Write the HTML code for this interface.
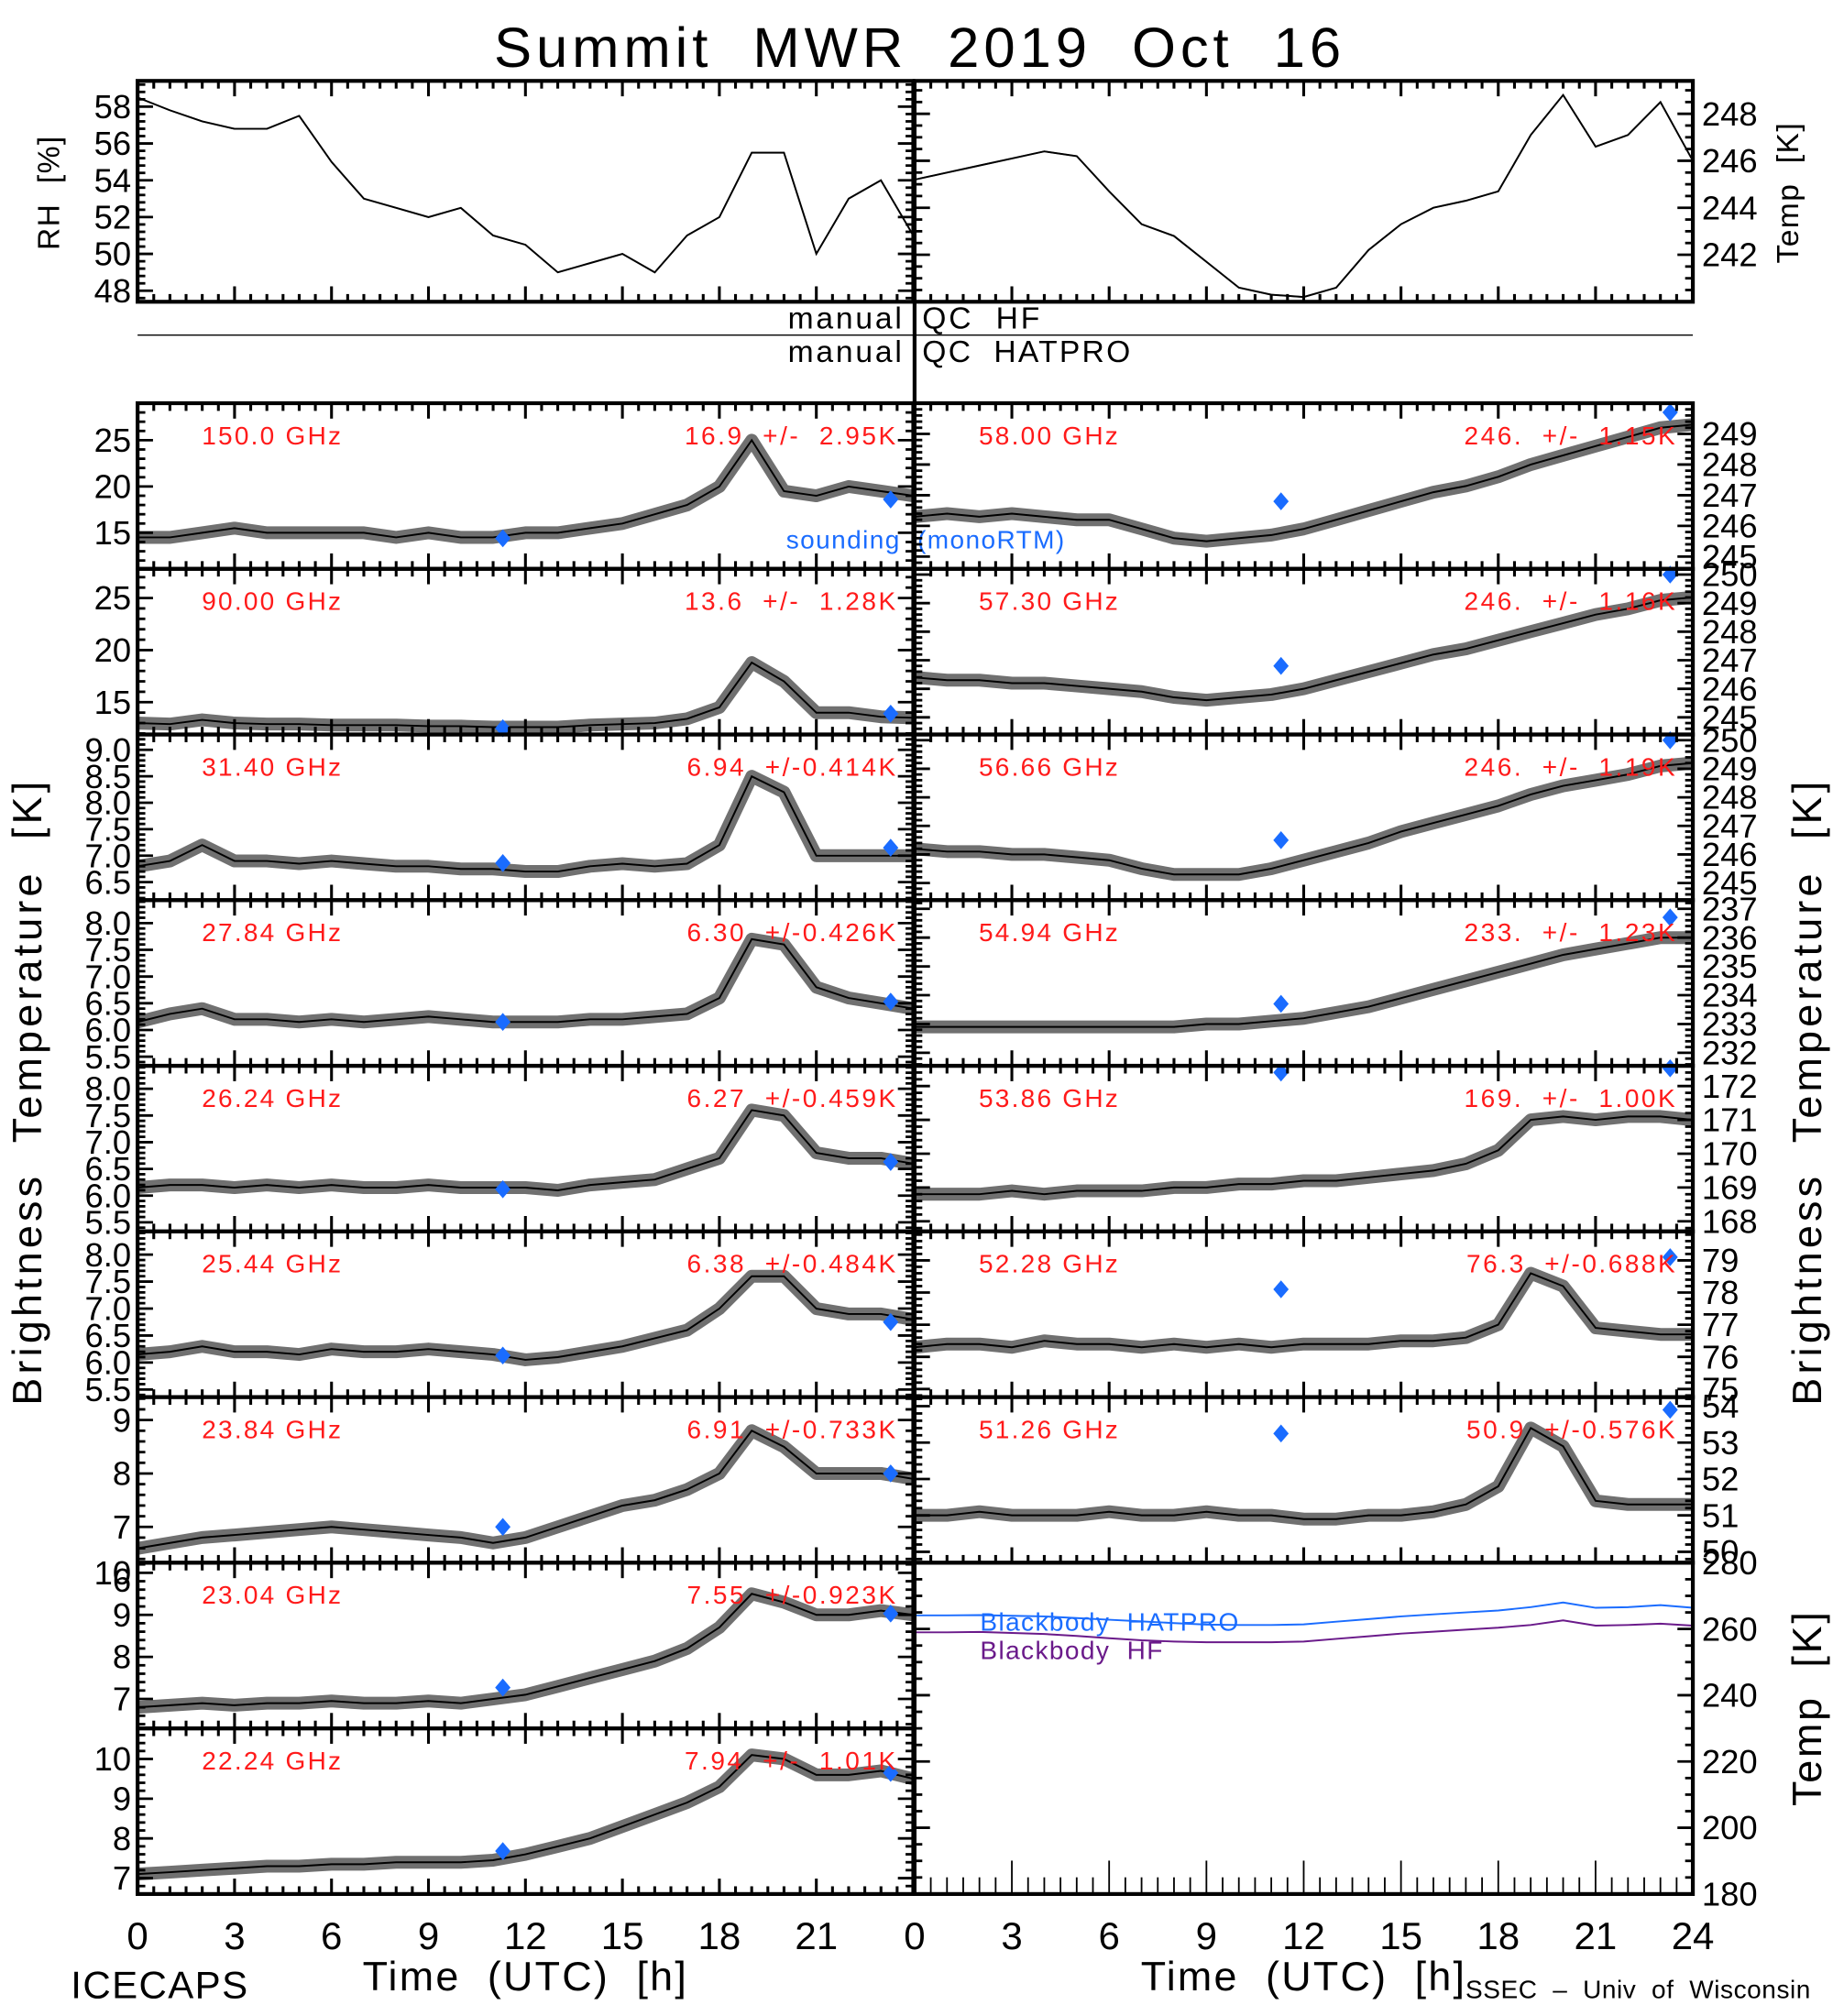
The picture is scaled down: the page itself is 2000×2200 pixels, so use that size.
<!DOCTYPE html>
<html><head><meta charset="utf-8"><style>
html,body{margin:0;padding:0;background:#fff;}
svg{display:block;}
text{font-family:"Liberation Sans",sans-serif;white-space:pre;}
</style></head><body>
<svg id="chart" xmlns="http://www.w3.org/2000/svg" width="2000" height="2200" viewBox="0 0 1427 1570">
<rect x="0" y="0" width="1427" height="1570" fill="#fff"/>
<text x="716" y="52" font-size="44" text-anchor="middle" letter-spacing="3.5">Summit  MWR  2019  Oct  16</text>
<text x="704" y="256" font-size="24" text-anchor="end" letter-spacing="2">manual</text>
<text x="718" y="256" font-size="24" letter-spacing="2">QC  HF</text>
<line x1="107" y1="261" x2="1318" y2="261" stroke="#000" stroke-width="1"/>
<text x="704" y="282" font-size="24" text-anchor="end" letter-spacing="2">manual</text>
<text x="718" y="282" font-size="24" letter-spacing="1.6">QC  HATPRO</text>
<line x1="712" y1="63" x2="712" y2="1476" stroke="#000" stroke-width="3"/>
<text transform="translate(32,850) rotate(-90)" font-size="32" text-anchor="middle" letter-spacing="3">Brightness  Temperature  [K]</text>
<text transform="translate(1418,850) rotate(-90)" font-size="32" text-anchor="middle" letter-spacing="3">Brightness  Temperature  [K]</text>
<text transform="translate(46,150) rotate(-90)" font-size="24" text-anchor="middle" letter-spacing="1">RH  [%]</text>
<text transform="translate(1400,150) rotate(-90)" font-size="24" text-anchor="middle" letter-spacing="1">Temp  [K]</text>
<text transform="translate(1418,1330) rotate(-90)" font-size="32" text-anchor="middle" letter-spacing="2">Temp  [K]</text>
<text x="409" y="1550" font-size="32" text-anchor="middle" letter-spacing="1.6">Time  (UTC)  [h]</text>
<text x="1015" y="1550" font-size="32" text-anchor="middle" letter-spacing="1.6">Time  (UTC)  [h]</text>
<text x="55" y="1556" font-size="30" letter-spacing="1">ICECAPS</text>
<text x="1141" y="1556" font-size="20" letter-spacing="0.4">SSEC  –  Univ  of  Wisconsin</text>
<text x="612" y="427" font-size="20" fill="#1a6cff" letter-spacing="1">sounding  (monoRTM)</text>
<g id="plots"></g>
</svg>
<script>
// ---- data (hourly values 0..24 UTC) ----
const hours = [0,1,2,3,4,5,6,7,8,9,10,11,12,13,14,15,16,17,18,19,20,21,22,23,24];
const rhValues   = [58.5,57.8,57.2,56.8,56.8,57.5,55,53,52.5,52,52.5,51,50.5,49,49.5,50,49,51,52,55.5,55.5,50,53,54,51];
const tempValues = [245.2,245.5,245.8,246.1,246.4,246.2,244.7,243.3,242.8,241.7,240.6,240.3,240.2,240.6,242.2,243.3,244,244.3,244.7,247.1,248.8,246.6,247.1,248.5,246];
const freqsLeft  = ["150.0 GHz","90.00 GHz","31.40 GHz","27.84 GHz","26.24 GHz","25.44 GHz","23.84 GHz","23.04 GHz","22.24 GHz"];
const statsLeft  = ["16.9 +/-  2.95K","13.6 +/-  1.28K","6.94 +/-0.414K","6.30 +/-0.426K","6.27 +/-0.459K","6.38 +/-0.484K","6.91 +/-0.733K","7.55 +/-0.923K","7.94 +/-  1.01K"];
const tb150 = [14.5,14.5,15,15.5,15,15,15,15,14.5,15,14.5,14.5,15,15,15.5,16,17,18,20,25,19.5,19,20,19.5,19];
const tb90  = [13,12.9,13.3,13,12.9,12.9,12.8,12.8,12.8,12.7,12.7,12.6,12.6,12.6,12.8,12.9,13,13.4,14.5,18.8,17,14,14,13.6,13.5];
const tb314 = [6.8,6.9,7.2,6.9,6.9,6.85,6.9,6.85,6.8,6.8,6.75,6.75,6.7,6.7,6.8,6.85,6.8,6.85,7.2,8.5,8.2,7.0,7.0,7.0,7.0];
const tb2784= [6.15,6.3,6.4,6.2,6.2,6.15,6.2,6.15,6.2,6.25,6.2,6.15,6.15,6.15,6.2,6.2,6.25,6.3,6.6,7.7,7.6,6.8,6.6,6.5,6.4];
const tb2624= [6.15,6.2,6.2,6.15,6.2,6.15,6.2,6.15,6.15,6.2,6.15,6.15,6.15,6.1,6.2,6.25,6.3,6.5,6.7,7.6,7.5,6.8,6.7,6.7,6.6];
const tb2544= [6.15,6.2,6.3,6.2,6.2,6.15,6.25,6.2,6.2,6.25,6.2,6.15,6.05,6.1,6.2,6.3,6.45,6.6,7.0,7.6,7.6,7.0,6.9,6.9,6.8];
const tb2384= [6.6,6.7,6.8,6.85,6.9,6.95,7.0,6.95,6.9,6.85,6.8,6.7,6.8,7.0,7.2,7.4,7.5,7.7,8.0,8.8,8.5,8.0,8.0,8.0,7.9];
const tb2304= [6.8,6.85,6.9,6.85,6.9,6.9,6.95,6.9,6.9,6.95,6.9,7.0,7.1,7.3,7.5,7.7,7.9,8.2,8.7,9.5,9.3,9.0,9.0,9.1,9.0];
const tb2224= [7.1,7.15,7.2,7.25,7.3,7.3,7.35,7.35,7.4,7.4,7.4,7.45,7.6,7.8,8.0,8.3,8.6,8.9,9.3,10.1,10.0,9.6,9.6,9.7,9.5];
const freqsRight = ["58.00 GHz","57.30 GHz","56.66 GHz","54.94 GHz","53.86 GHz","52.28 GHz","51.26 GHz"];
const statsRight = ["246. +/-  1.15K","246. +/-  1.16K","246. +/-  1.19K","233. +/-  1.23K","169. +/-  1.00K","76.3 +/-0.688K","50.9 +/-0.576K"];
const tb5800= [246.3,246.4,246.3,246.4,246.3,246.2,246.2,245.9,245.6,245.5,245.6,245.7,245.9,246.2,246.5,246.8,247.1,247.3,247.6,248.0,248.3,248.6,248.9,249.2,249.3];
const tb5730= [246.4,246.3,246.3,246.2,246.2,246.1,246.0,245.9,245.7,245.6,245.7,245.8,246.0,246.3,246.6,246.9,247.2,247.4,247.7,248.0,248.3,248.6,248.8,249.1,249.2];
const tb5666= [246.2,246.1,246.1,246.0,246.0,245.9,245.8,245.5,245.3,245.3,245.3,245.5,245.8,246.1,246.4,246.8,247.1,247.4,247.7,248.1,248.4,248.6,248.8,249.1,249.2];
const tb5494= [232.9,232.9,232.9,232.9,232.9,232.9,232.9,232.9,232.9,233.0,233.0,233.1,233.2,233.4,233.6,233.9,234.2,234.5,234.8,235.1,235.4,235.6,235.8,236.0,236.0];
const tb5386= [168.8,168.8,168.8,168.9,168.8,168.9,168.9,168.9,169.0,169.0,169.1,169.1,169.2,169.2,169.3,169.4,169.5,169.7,170.1,171.0,171.1,171.0,171.1,171.1,171.0];
const tb5228= [76.3,76.4,76.4,76.3,76.5,76.4,76.4,76.3,76.4,76.3,76.4,76.3,76.4,76.4,76.4,76.5,76.5,76.6,77.0,78.6,78.2,76.9,76.8,76.7,76.7];
const tb5126= [51.0,51.0,51.1,51.0,51.0,51.0,51.1,51.0,51.0,51.1,51.0,51.0,50.9,50.9,51.0,51.0,51.1,51.3,51.8,53.4,52.9,51.4,51.3,51.3,51.3];
const bbHatpro = [264.1,264.1,264.2,264.0,263.8,263.3,262.8,262.3,261.8,261.3,261.2,261.2,261.4,262.2,263.0,263.8,264.4,265.0,265.6,266.6,268.0,266.4,266.6,267.2,266.4];
const bbHF     = [259.0,259.0,259.1,258.8,258.5,257.9,257.2,256.6,256.2,256.0,256.0,256.0,256.2,257.0,257.8,258.6,259.2,259.8,260.4,261.2,262.6,261.0,261.2,261.6,261.0];
const sondeHours = [11.3, 23.3];
const sondeLeft  = [[14.4,18.6],[12.5,13.9],[6.86,7.15],[6.15,6.53],[6.12,6.63],[6.13,6.75],[7.0,8.0],[7.27,9.03],[7.68,9.65]];
const sondeRight = [[246.8,249.7],[246.8,250.0],[246.5,250.0],[233.7,236.7],[172.4,172.6],[78.1,79.1],[53.25,53.9]];
const ticksLeft = [[15,20,25],[15,20,25],[6.5,7.0,7.5,8.0,8.5,9.0],[5.5,6.0,6.5,7.0,7.5,8.0],[5.5,6.0,6.5,7.0,7.5,8.0],[5.5,6.0,6.5,7.0,7.5,8.0],[6,7,8,9],[7,8,9,10],[7,8,9,10]];
const tickFmtLeft = [0,0,1,1,1,1,0,0,0];
const ticksRight = [[245,246,247,248,249],[245,246,247,248,249,250],[245,246,247,248,249,250],[232,233,234,235,236,237],[168,169,170,171,172],[75,76,77,78,79],[50,51,52,53,54]];
const ticksBB = [180,200,220,240,260,280];
const ticksRH = [48,50,52,54,56,58];
const ticksT  = [242,244,246,248];
const xLabelsLeft = [0,3,6,9,12,15,18,21];
const xLabelsRight= [0,3,6,9,12,15,18,21,24];

const seriesLeft = [tb150,tb90,tb314,tb2784,tb2624,tb2544,tb2384,tb2304,tb2224];
const seriesRight= [tb5800,tb5730,tb5666,tb5494,tb5386,tb5228,tb5126];
const rangesLeft = [[11.1,29],[11.9,27.8],[6.16,9.29],[5.33,8.43],[5.33,8.43],[5.36,8.43],[6.33,9.43],[6.3,10.24],[6.6,10.77]];
const rangesRight= [[244.6,250.0],[244.4,250.2],[244.4,250.2],[231.55,237.3],[167.7,172.6],[74.75,79.9],[49.7,54.25]];

const NS='http://www.w3.org/2000/svg';
const root=document.getElementById('plots');
function mk(tag,attrs,parent){const e=document.createElementNS(NS,tag);for(const k in attrs)e.setAttribute(k,attrs[k]);(parent||root).appendChild(e);return e;}

function panel(name,x0,x1,y0,y1,ymin,ymax,ticks,fmt,labelSide,vals,opts){
  opts=opts||{};
  const g=mk('g',{});
  
  
  const sx=h=>x0+(x1-x0)*h/24;
  const sy=v=>y1-(y1-y0)*(v-ymin)/(ymax-ymin);
  const cp='cp-'+name;
  const cl=mk('clipPath',{id:cp},g);
  mk('rect',{x:x0,y:y0,width:x1-x0,height:y1-y0},cl);
  if(vals){
    const pts=hours.map((h,i)=>sx(h).toFixed(1)+','+sy(vals[i]).toFixed(1)).join(' ');
    const band=mk('polyline',{points:pts,fill:'none',stroke:'#111','stroke-width':opts.bw||10,'stroke-opacity':0.6,'stroke-linejoin':'round','clip-path':'url(#'+cp+')'},g);
    
    
    const ln=mk('polyline',{points:pts,fill:'none',stroke:'#000','stroke-width':1.4,'clip-path':'url(#'+cp+')'},g);
    
    
  }
  if(opts.extra){opts.extra.forEach(s=>{
    const pts=hours.map((h,i)=>sx(h).toFixed(1)+','+sy(s.v[i]).toFixed(1)).join(' ');
    const l=mk('polyline',{points:pts,fill:'none',stroke:s.c,'stroke-width':1.4,'clip-path':'url(#'+cp+')'},g);
    
    
  });}
  if(opts.sonde){opts.sonde.forEach((v,i)=>{
    const cx=sx(sondeHours[i]),cy=Math.max(y0+2,sy(v));
    const d=mk('polygon',{points:`${cx},${cy-7} ${cx+6},${cy} ${cx},${cy+7} ${cx-6},${cy}`,fill:'#1a6cff'},g);
    
    
  });}
  const big=opts.longTicks;
  for(let h=0;h<=24;h+=0.5){
    const x=sx(h);const major=(h%3===0);
    const L=major?12:6;
    if(big){mk('line',{x1:x,y1:y1,x2:x,y2:y1-(major?26:13),stroke:'#000','stroke-width':1.3},g);}
    else{
      mk('line',{x1:x,y1:y1,x2:x,y2:y1-L,stroke:'#000','stroke-width':2.2},g);
      mk('line',{x1:x,y1:y0,x2:x,y2:y0+L,stroke:'#000','stroke-width':2.2},g);
    }
  }
  const step=ticks[1]-ticks[0];const sub=step/ (opts.ysub||5);
  const start=Math.ceil((ymin)/sub)*sub;
  for(let v=start;v<=ymax+1e-9;v+=sub){
    const y=sy(v);const maj=ticks.some(t=>Math.abs(t-v)<sub*0.3);
    const L=maj?12:6;
    mk('line',{x1:x0,y1:y,x2:x0+L,y2:y,stroke:'#000','stroke-width':2},g);
    mk('line',{x1:x1,y1:y,x2:x1-L,y2:y,stroke:'#000','stroke-width':2},g);
  }
  ticks.forEach(t=>{
    let y=sy(t)+9;
    const tx=mk('text',{x:labelSide==='left'?x0-5:x1+7,y:y,'font-size':opts.fs||26,'text-anchor':labelSide==='left'?'end':'start'},g);
    tx.textContent=t.toFixed(fmt);
    
    
  });
  mk('rect',{x:x0,y:y0,width:x1-x0,height:y1-y0,fill:'none',stroke:'#000','stroke-width':3},g);
  if(opts.title){
    const t1=mk('text',{x:x0+50,y:y0+32,'font-size':20,fill:'#ff1a1a','letter-spacing':1.6},g);
    t1.textContent=opts.title;
    
    
    const t2=mk('text',{x:x1-12,y:y0+32,'font-size':20,fill:'#ff1a1a','text-anchor':'end','letter-spacing':1.8},g);
    t2.textContent=opts.stats.replace(' +/-','  +/-');
    
    
  }
  return g;
}

const LX0=107,LX1=711,RX0=712,RX1=1318;
panel('rh-panel',LX0,LX1,63,235,47.4,59.4,ticksRH,0,'left',rhValues,{bw:1.2});
panel('temp-panel',RX0,RX1,63,235,240.0,249.4,ticksT,0,'right',tempValues,{bw:1.2,ysub:4});
for(let i=0;i<9;i++){
  const y0=314+129*i,y1=y0+129;
  panel('left-panel-'+i,LX0,LX1,y0,y1,rangesLeft[i][0],rangesLeft[i][1],ticksLeft[i],tickFmtLeft[i],'left',seriesLeft[i],{title:freqsLeft[i],stats:statsLeft[i],sonde:sondeLeft[i]});
}
for(let i=0;i<7;i++){
  const y0=314+129*i,y1=y0+129;
  panel('right-panel-'+i,RX0,RX1,y0,y1,rangesRight[i][0],rangesRight[i][1],ticksRight[i],0,'right',seriesRight[i],{title:freqsRight[i],stats:statsRight[i],sonde:sondeRight[i]});
}
panel('blackbody-panel',RX0,RX1,1217,1475,180,280,ticksBB,0,'right',null,{longTicks:true,ysub:4,extra:[{v:bbHatpro,c:'#1a6cff',n:'blackbody-hatpro-line'},{v:bbHF,c:'#6a1a8a',n:'blackbody-hf-line'}]});
const l1=mk('text',{x:763,y:1270,'font-size':20,fill:'#1a6cff','letter-spacing':1});
l1.textContent='Blackbody  HATPRO';


const l2=mk('text',{x:763,y:1292,'font-size':20,fill:'#6a1a8a','letter-spacing':1});
l2.textContent='Blackbody  HF';


xLabelsLeft.forEach(h=>{
  const t=mk('text',{x:LX0+(LX1-LX0)*h/24,y:1518,'font-size':30,'text-anchor':'middle'});
  t.textContent=h;
  
  
});
xLabelsRight.forEach(h=>{
  const t=mk('text',{x:RX0+(RX1-RX0)*h/24,y:1518,'font-size':30,'text-anchor':'middle'});
  t.textContent=h;
  
  
});
</script>
</body></html>
